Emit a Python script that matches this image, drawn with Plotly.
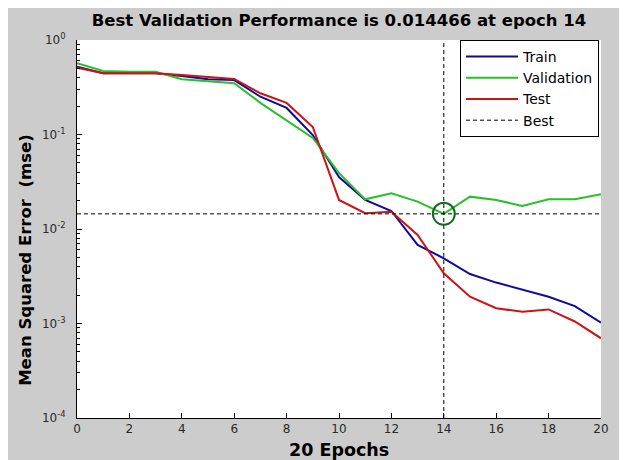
import plotly.graph_objects as go

epochs = list(range(21))
train = [0.522, 0.444, 0.444, 0.444, 0.416, 0.384, 0.377, 0.251, 0.191, 0.0988,
         0.0355, 0.0203, 0.0155, 0.00678, 0.0049, 0.00334, 0.00271, 0.00226,
         0.00192, 0.00153, 0.00102]
validation = [0.567, 0.47, 0.462, 0.462, 0.384, 0.368, 0.348, 0.216, 0.142, 0.0918,
              0.039, 0.0206, 0.0239, 0.0195, 0.014466, 0.022, 0.0203, 0.0175,
              0.0206, 0.0206, 0.0233]
test = [0.509, 0.444, 0.444, 0.444, 0.426, 0.403, 0.387, 0.273, 0.216, 0.12,
        0.0203, 0.0147, 0.0152, 0.00865, 0.0034, 0.00192, 0.00145, 0.00133,
        0.00141, 0.00105, 0.000697]
best_epoch = 14
best_value = 0.014466
x_ticks = list(range(0, 21, 2))
y_ticks = [1e-4, 1e-3, 1e-2, 1e-1, 1]
y_tick_text = ["10<sup>-4</sup>", "10<sup>-3</sup>", "10<sup>-2</sup>", "10<sup>-1</sup>", "10<sup>0</sup>"]

minor_vals = [m * 10.0 ** k for k in range(-4, 0) for m in range(2, 10)]

FONT = "DejaVu Sans, Liberation Sans, Arial, sans-serif"
DASH = "4px,3px"

# the page body adds an 8px margin around the figure
W, H = 611, 452
L, R, T, B = 69, 10, 32, 42
PW = W - L - R
PH = H - T - B

fig = go.Figure()
fig.add_trace(go.Scatter(x=epochs, y=train, mode="lines", name="Train",
                         line=dict(color="#0c0c9c", width=2)))
fig.add_trace(go.Scatter(x=epochs, y=validation, mode="lines", name="Validation",
                         line=dict(color="#28c028", width=2)))
fig.add_trace(go.Scatter(x=epochs, y=test, mode="lines", name="Test",
                         line=dict(color="#cc1414", width=2)))
fig.add_trace(go.Scatter(x=[0, 20], y=[best_value, best_value], mode="lines", name="Best",
                         line=dict(color="black", width=1, dash=DASH)))
fig.add_trace(go.Scatter(x=[best_epoch, best_epoch], y=[1e-4, 1], mode="lines",
                         showlegend=False, line=dict(color="black", width=1, dash=DASH)))
fig.add_trace(go.Scatter(x=[best_epoch], y=[best_value], mode="markers", showlegend=False,
                         marker=dict(symbol="circle-open", size=22,
                                     line=dict(color="#0f6a1f", width=2), color="#0f6a1f")))

fig.update_layout(
    width=W, height=H,
    margin=dict(l=L, r=R, t=T, b=B),
    paper_bgcolor="#cccccc", plot_bgcolor="white",
    font=dict(family=FONT, color="#2a2a2a", size=12),
    title=dict(text="<b>Best Validation Performance is 0.014466 at epoch 14</b>",
               x=0.5, xref="paper", xanchor="center",
               y=1 - 12 / H, yref="container", yanchor="middle",
               font=dict(size=16.5, color="black", family=FONT)),
    legend=dict(x=(599 - L) / PW, xanchor="right", y=1.0, yanchor="top",
                bgcolor="white", bordercolor="black", borderwidth=1,
                itemwidth=52,
                font=dict(size=14, color="black", family=FONT)),
    showlegend=True,
    annotations=[
        dict(text="<b>Mean Squared Error &nbsp;(mse)</b>", textangle=-90,
             xref="paper", yref="paper", x=(16 - L) / PW, y=(410 - 252) / PH,
             xanchor="center", yanchor="middle", showarrow=False,
             font=dict(size=16.5, color="black", family=FONT)),
        dict(text="<b>20 Epochs</b>",
             xref="paper", yref="paper", x=(335 - L) / PW, y=(410 - 442) / PH,
             xanchor="center", yanchor="middle", showarrow=False,
             font=dict(size=17.5, color="black", family=FONT)),
    ],
)
fig.update_xaxes(range=[0, 20], tickvals=x_ticks, ticks="inside", ticklen=5,
                 tickcolor="black", showline=True, linecolor="black", linewidth=1,
                 showgrid=False, zeroline=False, tickfont=dict(size=12, color="#2a2a2a"))
fig.update_yaxes(type="log", range=[-4, 0], tickvals=y_ticks, ticktext=y_tick_text,
                 ticks="inside", ticklen=5, tickcolor="black", showline=True,
                 linecolor="black", linewidth=1, showgrid=False, zeroline=False,
                 ticklabelstandoff=8,
                 minor=dict(tickvals=minor_vals, ticks="inside", ticklen=3, tickcolor="black",
                            showgrid=False),
                 tickfont=dict(size=12, color="#2a2a2a"))

fig.write_html("out.html")
